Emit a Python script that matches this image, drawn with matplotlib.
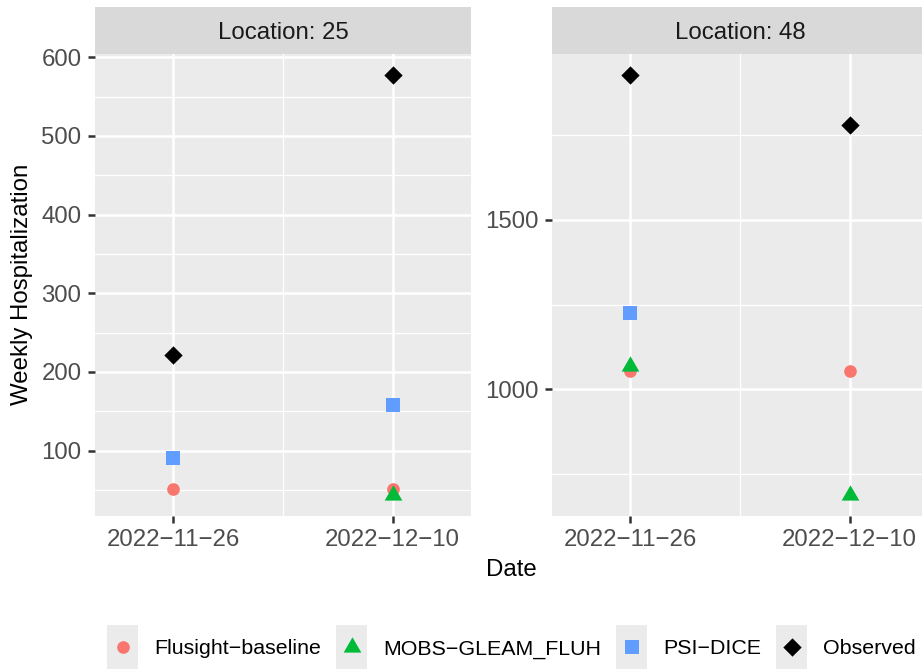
import numpy as np
import matplotlib
matplotlib.use("Agg")
import matplotlib.pyplot as plt
import matplotlib.dates as mdates
from matplotlib.ticker import MultipleLocator, FixedLocator
from matplotlib.patches import Rectangle
from datetime import datetime

plt.rcParams['font.family'] = ['Liberation Sans', 'DejaVu Sans']

# data
dates = ["2022-11-26", "2022-12-10"]
locations = ["25", "48"]
models = ["Flusight-baseline", "MOBS-GLEAM_FLUH", "PSI-DICE", "Observed"]

loc25_flusight = [51, 51]
loc25_mobs = [np.nan, 44]
loc25_psi = [90, 158]
loc25_observed = [221, 578]

loc48_flusight = [1053, 1053]
loc48_mobs = [1070, 690]
loc48_psi = [1225, np.nan]
loc48_observed = [1928, 1779]

values = {
    "25": [loc25_flusight, loc25_mobs, loc25_psi, loc25_observed],
    "48": [loc48_flusight, loc48_mobs, loc48_psi, loc48_observed],
}

# styles
colors = ["#F8766D", "#00BA38", "#619CFF", "black"]
tri = [(0, 1.155), (1, -0.577), (-1, -0.577)]
dia = [(0, 1), (1, 0), (0, -1), (-1, 0)]
markers = ["o", tri, "s", dia]
msizes = [9.1, 14.7, 9.9, 13.2]
major_step = {"25": 100, "48": 500}

W, H = 922, 669
fig = plt.figure(figsize=(W / 100, H / 100), dpi=100)


def px_axes(x0, y0, x1, y1):
    return fig.add_axes([x0 / W, 1 - y1 / H, (x1 - x0) / W, (y1 - y0) / H])


xs = mdates.date2num([datetime.strptime(d, "%Y-%m-%d") for d in dates])
tick_labels = [d.replace("-", "\u2212") for d in dates]

panel_left = [95, 552]
for loc, x0 in zip(locations, panel_left):
    ax = px_axes(x0, 53.6, x0 + 376, 515.6)
    ax.set_facecolor("#EBEBEB")
    for s in ax.spines.values():
        s.set_visible(False)

    for vals, c, m, ms in zip(values[loc], colors, markers, msizes):
        ax.plot(xs, vals, linestyle="none", marker=m, ms=ms, color=c,
                markeredgewidth=0, zorder=3)

    allv = np.array(values[loc], dtype=float)
    lo, hi = np.nanmin(allv), np.nanmax(allv)
    span = hi - lo
    ax.set_ylim(lo - 0.05 * span, hi + 0.05 * span)
    ax.set_xlim(xs[0] - 5, xs[-1] + 5)

    ax.xaxis.set_major_locator(FixedLocator(xs))
    ax.xaxis.set_minor_locator(FixedLocator([xs.mean()]))
    ax.set_xticklabels(tick_labels)
    ax.yaxis.set_major_locator(MultipleLocator(major_step[loc]))
    ax.yaxis.set_minor_locator(MultipleLocator(major_step[loc] / 2))

    ax.grid(which="major", color="white", linewidth=1.8)
    ax.grid(which="minor", color="white", linewidth=0.9)
    ax.set_axisbelow(True)
    ax.tick_params(which="major", length=5, width=1.8, color="#333333",
                   labelsize=17.3, labelcolor="#4D4D4D", pad=4.7)
    ax.tick_params(which="minor", length=0)

    # facet strip
    sax = px_axes(x0, 6.9, x0 + 376, 53.6)
    sax.set_facecolor("#D9D9D9")
    sax.set_xticks([])
    sax.set_yticks([])
    for s in sax.spines.values():
        s.set_visible(False)
    sax.text(0.5, 0.5, f"Location: {loc}", transform=sax.transAxes,
             ha="center", va="center_baseline", fontsize=17.3, color="#1A1A1A")

fig.text(22 / W, 1 - 284.5 / H, "Weekly Hospitalization", rotation=90,
         ha="center", va="center", fontsize=17.3)
fig.text(511 / W, 1 - 576 / H, "Date", ha="center", va="baseline", fontsize=17.3)

# legend at bottom
lax = fig.add_axes([0, 0, 1, 1])
lax.set_xlim(0, W)
lax.set_ylim(H, 0)
lax.axis("off")
renderer = fig.canvas.get_renderer()
key_w, gap_text, gap_item, cy = 31, 16, 15, 647
texts = [lax.text(0, cy + 7.5, m.replace("-", "\u2212"), fontsize=15.4,
                  va="baseline", ha="left") for m in models]
widths = [t.get_window_extent(renderer).width for t in texts]
total = sum(key_w + gap_text + w for w in widths) + gap_item * (len(models) - 1)
x = 511.5 - total / 2
for t, w, c, m, ms in zip(texts, widths, colors, markers, msizes):
    lax.add_patch(Rectangle((x, 625), key_w, 46, facecolor="#EBEBEB",
                            edgecolor="none"))
    lax.plot(x + key_w / 2, cy, linestyle="none", marker=m, ms=ms, color=c,
             markeredgewidth=0)
    t.set_x(x + key_w + gap_text)
    x += key_w + gap_text + w + gap_item

fig.savefig("out.png", dpi=100)
